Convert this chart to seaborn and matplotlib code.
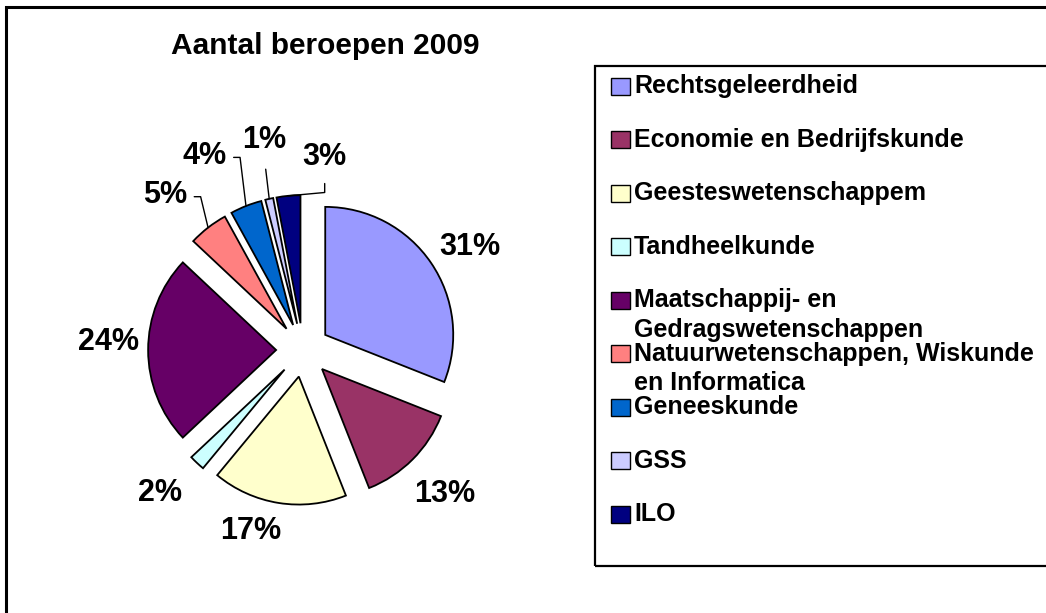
import numpy as np
import matplotlib
matplotlib.use("Agg")
import matplotlib.pyplot as plt
import seaborn as sns
from matplotlib.patches import Rectangle

# data
categories = ["Rechtsgeleerdheid", "Economie en Bedrijfskunde", "Geesteswetenschappem",
              "Tandheelkunde", "Maatschappij- en\nGedragswetenschappen",
              "Natuurwetenschappen, Wiskunde\nen Informatica", "Geneeskunde", "GSS", "ILO"]
shares = [31, 13, 17, 2, 24, 5, 4, 1, 3]
colors = ["#9999FF", "#993366", "#FFFFCC", "#CCFFFF", "#660066",
          "#FF8080", "#0066CC", "#CCCCFF", "#000080"]

# label placement (radius, angle in degrees) like excel best fit
label_pos = [(1.53, 31.6), (1.58, -45.5), (1.47, -106), (1.58, -135), (1.52, 177.7),
             (1.62, 131.8), (1.70, 117), (1.67, 100.4), (1.52, 83.6)]

sns.set_theme(style="white")
plt.rcParams["font.family"] = ["Liberation Sans", "DejaVu Sans"]
plt.rcParams["text.color"] = "black"

W, H = 1046, 613
fig = plt.figure(figsize=(W / 100, H / 100), dpi=100)

def fx(x):
    return x / W

def fy(y):
    return 1 - y / H

# outer chart frame (right/bottom sides are cut off)
fig.add_artist(Rectangle((fx(6), fy(700)), 1.2, (700 - 7) / H, transform=fig.transFigure,
                         fill=False, edgecolor="black", linewidth=2.2))

# pie axes: center at (303,350) px, radius 128 px
cx, cy, R = 303, 350, 128
half = 200
ax = fig.add_axes([fx(cx - half), fy(cy + half), 2 * half / W, 2 * half / H])
wedges, _ = ax.pie(shares, colors=colors, startangle=90, counterclock=False,
                   explode=[0.21] * len(shares),
                   wedgeprops=dict(edgecolor="black", linewidth=1.3))
lim = half / R
ax.set_xlim(-lim, lim)
ax.set_ylim(-lim, lim)
ax.set_aspect("equal")
ax.axis("off")

for i, (w, s) in enumerate(zip(wedges, shares)):
    r, a = label_pos[i]
    tx, ty = r * np.cos(np.radians(a)), r * np.sin(np.radians(a))
    ax.text(tx, ty, f"{s}%", ha="center", va="center", fontsize=22, fontweight="bold")
    # leader lines for the small slices
    if i >= 5:
        mid = np.radians((w.theta1 + w.theta2) / 2)
        ex = w.center[0] + w.r * np.cos(mid)
        ey = w.center[1] + w.r * np.sin(mid)
        if i in (5, 6):
            xs = [tx + 0.23, tx + 0.28, ex]
            ys = [ty - 0.01, ty - 0.01, ey]
        elif i == 7:
            xs = [tx + 0.01, ex]
            ys = [ty - 0.23, ey]
        else:
            xs = [tx, tx, ex]
            ys = [ty - 0.21, ty - 0.28, ey]
        ax.plot(xs, ys, color="black", linewidth=1.0, clip_on=False)

fig.text(fx(325), fy(46), "Aantal beroepen 2009", ha="center", va="center",
         fontsize=21.5, fontweight="bold")

# legend box
fig.add_artist(Rectangle((fx(595), fy(566)), 0.6, (566 - 66) / H, transform=fig.transFigure,
                         fill=False, edgecolor="black", linewidth=1.6))
for i, (name, c) in enumerate(zip(categories, colors)):
    yc = 86 + i * 53.5
    fig.add_artist(Rectangle((fx(611), fy(yc + 8.5)), 19 / W, 17 / H,
                             transform=fig.transFigure, facecolor=c,
                             edgecolor="black", linewidth=1.0))
    lines = name.split("\n")
    for j, line in enumerate(lines):
        fig.text(fx(634), fy(yc + j * 30), line, ha="left", va="center",
                 fontsize=18, fontweight="bold")

fig.savefig("out.png", dpi=100)
